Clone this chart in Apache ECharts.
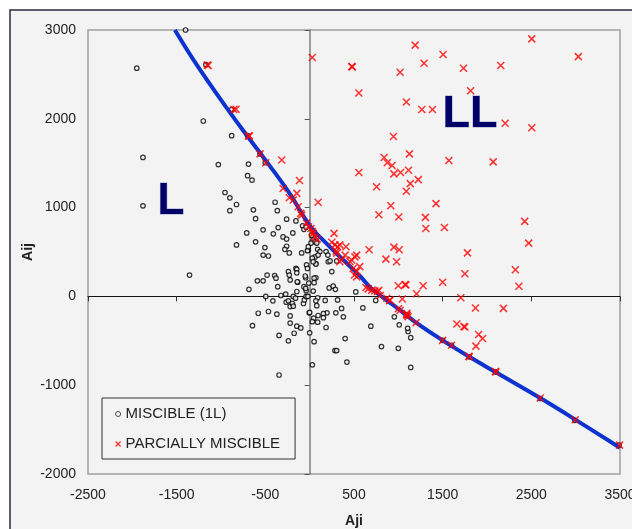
<!DOCTYPE html>
<html>
<head>
<meta charset="utf-8">
<script src="https://cdn.jsdelivr.net/npm/echarts@6/dist/echarts.min.js"></script>
<style>
  html, body { margin: 0; padding: 0; background: #ffffff; }
  #chart { width: 632px; height: 529px; }
</style>
</head>
<body>
<div id="chart"></div>
<script>
// Binary interaction parameters: Aji (x) vs Aij (y)
const seriesNames = ['MISCIBLE (1L)', 'PARCIALLY MISCIBLE'];

// Axis ranges (ticks every 1000)
const xRange = [-2500, 3500];
const yRange = [-2000, 3000];
const tickStep = 1000;

// Miscible pairs (single liquid phase)
const miscible = [
  [-1950,2570],[-1880,1565],[-1880,1020],[-1200,1975],[-880,1810],[-1030,1485],[-690,1490],
  [-700,1360],[-650,1310],[-955,1170],[-900,1110],[-825,1035],[-900,965],[-635,975],
  [-390,1060],[-365,965],[-610,875],[-260,870],[-155,850],[-355,775],[-525,750],[-710,715],
  [-410,705],[-190,715],[-80,795],[-65,755],[-40,780],[-300,670],[-260,645],[-610,615],
  [-825,580],[-505,550],[-260,565],[-280,530],[-525,465],[-465,455],[-230,490],[-90,490],
  [-15,520],[-155,315],[-35,355],[70,370],
  [-1400,3000],[-1170,2610],[-880,2105],[-700,1810],[-560,1605],[-500,1505],
  [-1355,240],[-685,80],[-590,175],[-525,175],[-480,240],[-395,235],[-380,205],[-360,110],
  [-240,280],[-230,240],[-145,305],[-145,265],[-135,160],[-145,55],[-65,110],[-40,65],
  [-25,315],[-495,0],[-415,-50],[-325,10],[-270,25],[-265,-65],[-240,-50],[-220,-115],
  [-195,-80],[-185,-110],[-185,0],[-160,-20],[-70,-80],[-60,-40],[-40,0],[-580,-190],
  [-465,-170],[-370,-200],[-645,-330],[-220,-220],[-220,-300],[-145,-335],[-100,-355],
  [-175,-415],[-345,-440],[-240,-500],[-345,-885],[-220,185],[-140,165],[-5,-185],[0,-410],
  [30,-770],[50,-510],
  [-45,210],[70,210],[50,155],[40,60],[220,95],[-45,90],[-20,0],[90,-15],[70,-50],[80,-105],
  [175,-45],[315,-40],[520,50],[360,-135],[600,-130],[0,-180],[195,-185],[155,-195],
  [155,-240],[95,-215],[45,-245],[30,-285],[90,-290],[295,-185],[380,-230],[185,-350],
  [400,-475],[285,-610],[305,-610],[420,-740],[690,-335],[810,-565],[955,-230],[1010,-320],
  [1000,-585],[1110,-395],[1105,-360],[1140,-465],[1140,-800],[745,-45],[50,205],[70,365],
  [20,690],[40,635],[60,615],[80,600],[90,530],[115,505],[60,445],[30,430],[40,390],[95,465],
  [185,505],[205,465],[210,390],[230,400],[305,400],[250,280],[-10,150],[-50,230],[-25,515],
  [-15,560],[15,600],[265,115],[290,80],
  [1500,-495],[1600,-550],[1800,-680],[2100,-850],[2600,-1150],[2990,-1395],[3490,-1675],[1095,-210]
];

// Partially miscible pairs (two liquid phases)
const partial = [
  [30,2690],[475,2590],[480,2585],[555,2290],[1190,2830],[1505,2725],[1290,2625],[1020,2525],
  [1735,2570],[2155,2600],[2505,2900],[3030,2700],[1815,2315],[1090,2190],[1265,2105],
  [1385,2105],[2205,1950],[2505,1900],[945,1800],[1125,1605],[840,1565],[875,1505],[930,1475],
  [1570,1530],[2070,1515],[555,1395],[950,1380],[1025,1395],[1115,1420],[1135,1270],
  [1225,1315],[1090,1185],[755,1235],[95,1060],[1425,1045],[915,1020],[780,920],[1005,895],
  [1305,890],[1310,765],[1520,775],[2425,845],[2470,600],[275,710],[670,525],[950,555],
  [1010,525],[860,420],[980,390],[1780,490],[2320,300],[2360,115],[1750,255],[1500,160],
  [1280,120],[1075,135],[1085,130],[1000,120],[1205,30],[1705,-15],[1870,-130],[2185,-135],
  [1045,-30],[900,-50],[1000,-140],[1020,-155],[1095,-205],[1100,-215],[1200,-295],
  [1660,-310],[1740,-340],[1750,-345],[1905,-430],[1950,-475],[1875,-560],[1500,-495],
  [1600,-550],[1800,-680],[1795,-675],[2100,-850],[2095,-845],[2600,-1145],[2995,-1390],
  [3495,-1675],
  [-1400,3005],[-1155,2605],[-1145,2600],[-855,2105],[-830,2108],[-690,1805],[-680,1808],
  [-560,1605],[-495,1505],[-315,1535],[-115,1305],[-145,1160],[-230,1110],[-185,1085],
  [-300,1215],[-130,1010],[-100,935],[-90,915],[-35,825],[-15,785],[15,765],[30,730],
  [40,710],[60,670],[85,645],
  [250,610],[285,580],[315,560],[340,580],[410,560],[300,510],[305,485],[400,465],[510,445],
  [530,465],[475,410],[455,390],[360,410],[340,390],[490,315],[530,280],[505,240],[530,220],
  [565,335],[635,100],[660,85],[700,70],[735,60],[765,55],[780,70],[795,10],[905,-40],
  [870,-20],[1095,-190],[1110,-230]
];

// Miscibility boundary
const boundary = [
  [-1520,3000],[-1275,2610],[-920,2100],[-710,1815],[-540,1590],[-240,1180],[0,800],
  [200,585],[380,410],[567,230],[700,85],[1000,-140],[1200,-295],[1500,-495],[1800,-680],
  [2100,-855],[2600,-1145],[3000,-1390],[3500,-1705]
];

const FONT = "'Liberation Sans', Arial, sans-serif";
const crossPath = 'path://M0,0L10,10M10,0L0,10';
const plainNumber = v => String(v);

const chart = echarts.init(document.getElementById('chart'), null, { renderer: 'canvas' });

chart.setOption({
  animation: false,
  backgroundColor: '#ffffff',
  textStyle: { fontFamily: FONT },
  graphic: [
    {
      type: 'rect', z: -10, silent: true,
      shape: { x: 10, y: 10, width: 700, height: 600 },
      style: { fill: '#f3f3f3', stroke: '#2a2a3a', lineWidth: 1.5 }
    },
    {
      type: 'text', z: 10, silent: true,
      style: {
        x: 171, y: 202, text: 'L', textAlign: 'center', textVerticalAlign: 'middle',
        font: 'bold 44px ' + FONT, fill: '#000066',
        stroke: 'rgba(130,130,190,0.7)', lineWidth: 1
      }
    },
    {
      type: 'text', z: 10, silent: true,
      style: {
        x: 470, y: 115, text: 'LL', textAlign: 'center', textVerticalAlign: 'middle',
        font: 'bold 45px ' + FONT, fill: '#000066',
        stroke: 'rgba(130,130,190,0.7)', lineWidth: 1
      }
    }
  ],
  grid: {
    left: 88, right: 12, top: 30, bottom: 55,
    outerBoundsMode: 'none',
    containLabel: false,
    show: true, backgroundColor: '#f3f3f3', borderColor: '#a0a0a0', borderWidth: 1.5
  },
  legend: {
    orient: 'vertical',
    left: 102, top: 398,
    padding: [7, 15, 6, 13],
    itemGap: 12,
    itemWidth: 5, itemHeight: 5,
    backgroundColor: '#f3f3f3',
    borderColor: '#333333', borderWidth: 1,
    textStyle: { fontSize: 15, lineHeight: 18, color: '#222', fontFamily: FONT },
    data: [
      { name: seriesNames[0], icon: 'circle',
        itemStyle: { color: '#f3f3f3', borderColor: '#222', borderWidth: 1 } },
      { name: seriesNames[1], icon: crossPath,
        itemStyle: { color: 'rgba(0,0,0,0)', borderColor: '#ff0000', borderWidth: 1.2 } }
    ]
  },
  xAxis: [
    {
      type: 'value', min: xRange[0], max: xRange[1], interval: tickStep,
      position: 'bottom',
      axisLine: { show: false, onZero: false },
      axisTick: { show: false },
      splitLine: { show: false },
      axisLabel: { fontSize: 14, color: '#222', margin: 14, fontFamily: FONT, formatter: plainNumber },
      name: 'Aji', nameLocation: 'middle', nameGap: 40, nameMoveOverlap: false,
      nameTextStyle: { fontSize: 14, fontWeight: 'bold', color: '#222', fontFamily: FONT }
    },
    {
      type: 'value', min: xRange[0], max: xRange[1], interval: tickStep,
      position: 'bottom',
      axisLine: { show: true, onZero: true, lineStyle: { color: '#111', width: 1 } },
      axisTick: { show: true, length: 5, lineStyle: { color: '#333', width: 1 } },
      axisLabel: { show: false },
      splitLine: { show: false }
    }
  ],
  yAxis: [
    {
      type: 'value', min: yRange[0], max: yRange[1], interval: tickStep,
      position: 'left',
      axisLine: { show: false, onZero: false },
      axisTick: { show: false },
      splitLine: { show: false },
      axisLabel: { fontSize: 14, color: '#222', margin: 12, fontFamily: FONT, formatter: plainNumber },
      name: 'Aij', nameLocation: 'middle', nameGap: 53, nameRotate: 90, nameMoveOverlap: false,
      nameTextStyle: { fontSize: 14, fontWeight: 'bold', color: '#222', fontFamily: FONT }
    },
    {
      type: 'value', min: yRange[0], max: yRange[1], interval: tickStep,
      position: 'left',
      axisLine: { show: true, onZero: true, lineStyle: { color: '#808080', width: 1.5 } },
      axisTick: { show: true, length: 5, lineStyle: { color: '#555', width: 1 } },
      axisLabel: { show: false },
      splitLine: { show: false }
    }
  ],
  series: [
    {
      name: seriesNames[0],
      type: 'scatter',
      xAxisIndex: 0, yAxisIndex: 0,
      data: miscible,
      symbol: 'circle',
      symbolSize: 4.5,
      itemStyle: { color: '#f3f3f3', borderColor: '#000', borderWidth: 1.2 },
      z: 2
    },
    {
      name: 'boundary',
      type: 'line',
      xAxisIndex: 0, yAxisIndex: 0,
      data: boundary,
      smooth: 0.4,
      showSymbol: false,
      lineStyle: { color: '#0c33cf', width: 4 },
      z: 3
    },
    {
      name: seriesNames[1],
      type: 'scatter',
      xAxisIndex: 0, yAxisIndex: 0,
      data: partial,
      symbol: crossPath,
      symbolSize: 7,
      itemStyle: { color: 'rgba(0,0,0,0)', borderColor: '#ff0000', borderWidth: 1.5 },
      z: 4
    }
  ]
});
</script>
</body>
</html>
